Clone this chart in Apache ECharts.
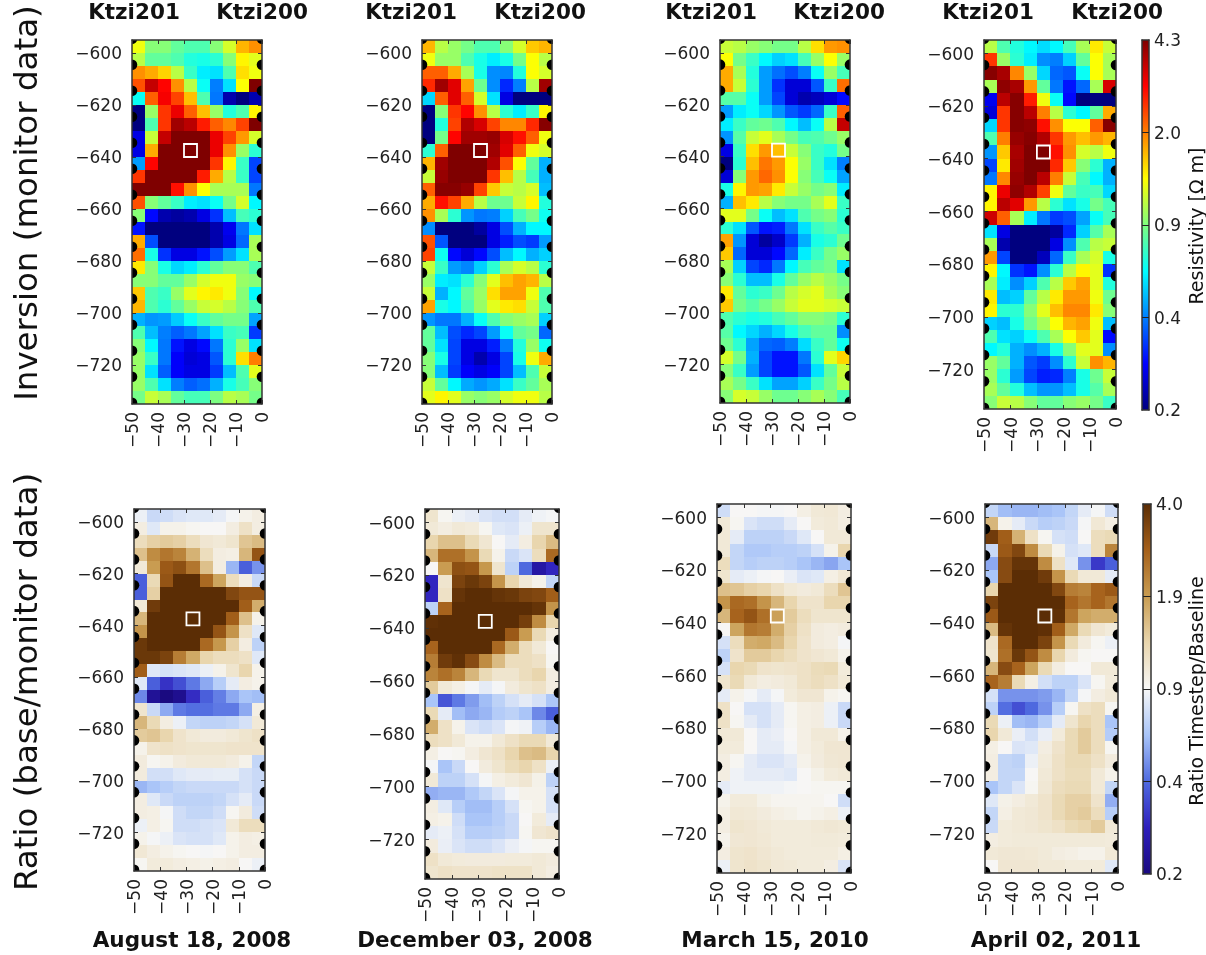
<!DOCTYPE html>
<html><head><meta charset="utf-8">
<style>html,body{margin:0;padding:0;background:#fff}#c{width:1206px;height:955px}#c canvas{filter:blur(.5px)}</style>
<script src="https://cdn.jsdelivr.net/npm/echarts@6/dist/echarts.min.js"></script>
</head><body><div id="c"></div>
<script>
// ---- values (rows top to bottom, columns left to right) ----
const resAug2008=[
[1.3,.95,.95,.85,.8,.8,.95,1.2,1.7,1.9],[1.1,.85,.85,.8,.7,.68,.72,.95,1.4,1.25],[1.9,1.75,1.55,1.1,.75,.6,.58,.8,1.5,1.3],
[2.3,3.5,2.9,1.9,1.1,.65,.43,.58,1.35,4.3],[.65,2.2,3.0,2.4,1.65,.8,.42,.23,.2,.23],[.2,1.0,2.5,3.1,2.2,1.65,1.0,.7,.8,1.4],
[.2,.8,2.5,3.9,3.6,2.7,2.2,1.95,2.4,4.3],[.27,1.15,3.5,4.3,4.3,4.3,3.1,2.4,1.85,1.2],[.27,1.75,4.3,4.3,4.3,4.3,3.1,1.9,1.0,.72],
[.47,2.9,4.3,4.3,4.3,4.3,2.5,1.4,.75,.36],[2.5,4.3,4.3,4.3,4.3,2.7,1.75,1.1,.75,.36],[4.3,4.3,4.3,2.8,1.9,1.35,1.05,1.05,1.05,.42],
[2.3,.95,.85,.75,.6,.58,.65,.9,1.2,.62],[.95,.3,.23,.22,.23,.27,.34,.52,.78,.72],[.31,.2,.2,.2,.2,.2,.23,.28,.42,.58],
[1.75,.37,.2,.2,.2,.2,.23,.27,.4,1.05],[2.1,.68,.34,.27,.27,.31,.37,.47,.58,1.05],[1.45,.95,.68,.56,.6,.72,.85,.95,.95,.8],
[.95,.95,.85,.85,1.0,1.2,1.3,1.3,1.0,.95],[1.6,.8,.75,1.0,1.25,1.4,1.45,1.3,.95,.62],[1.7,.8,.72,.85,1.0,1.15,1.2,1.1,.95,.8],
[.5,.46,.47,.54,.65,.75,.85,.9,.9,.48],[.8,.52,.43,.39,.42,.48,.58,.75,.78,.35],[.95,.62,.42,.31,.27,.3,.42,.72,1.0,.58],
[1.0,.75,.42,.29,.26,.27,.38,.72,1.5,2.0],[1.0,.58,.39,.29,.27,.27,.35,.52,.8,1.25],[1.0,.8,.58,.43,.39,.41,.5,.68,.78,.95],
[.9,1.15,1.05,.85,.78,.78,.92,1.1,1.05,.9]];
const resDec2008=[
[1.7,1.1,1.0,.9,.8,.8,.95,1.2,1.6,1.7],[1.3,1.0,1.0,.8,.68,.6,.68,.9,1.35,1.1],[2.2,2.2,1.75,1.05,.68,.45,.44,.7,1.35,1.2],
[2.6,3.9,3.2,1.8,.88,.45,.33,.43,1.1,3.9],[.56,2.2,3.2,2.2,1.2,.58,.27,.2,.2,.2],[.2,.95,2.5,2.9,1.9,1.1,.72,.6,.75,1.4],
[.2,.7,2.4,3.7,3.3,2.4,1.95,1.95,2.6,4.2],[.2,.9,2.9,3.9,3.9,4.0,3.3,2.8,2.2,1.3],[.72,2.2,4.3,4.3,4.3,3.9,3.2,2.2,1.3,1.2],
[1.7,3.9,4.3,4.3,4.3,3.7,2.3,1.35,.85,.5],[1.15,4.0,4.3,4.3,4.3,2.5,1.65,1.1,.78,.5],[2.2,4.2,4.2,4.0,2.4,1.6,1.15,1.1,1.2,.52],
[1.75,2.8,2.4,1.75,1.1,.88,.88,1.15,1.4,.7],[1.9,1.05,.72,.46,.42,.43,.55,.78,.9,.66],[.45,.2,.2,.2,.22,.27,.37,.5,.62,.62],
[2.3,.38,.2,.2,.2,.27,.32,.37,.35,.47],[2.4,.66,.3,.26,.3,.37,.52,.62,.5,.55],[1.15,.75,.47,.44,.55,.72,1.05,1.2,1.1,.72],
[1.0,.6,.58,.72,.95,1.25,1.65,1.8,1.7,1.1],[1.15,.5,.62,.85,1.0,1.5,1.8,1.8,1.3,.8],[1.8,.68,.62,.8,1.0,1.25,1.45,1.5,1.15,.8],
[.46,.42,.42,.5,.65,.8,.95,1.0,1.05,.55],[.85,.52,.37,.33,.36,.47,.65,.85,.9,.4],[.85,.58,.36,.27,.27,.32,.43,.7,1.0,.66],
[.95,.68,.36,.27,.23,.27,.36,.68,1.3,1.75],[.95,.52,.35,.29,.27,.29,.36,.52,.8,1.15],[1.15,.85,.62,.49,.46,.49,.58,.75,.85,1.05],
[1.25,1.4,1.25,1.0,.95,1.0,1.2,1.3,1.3,1.1]];
const resMar2010=[
[1.15,1.1,1.0,.95,.9,.9,1.1,1.5,1.85,1.9],[1.35,.9,.75,.62,.55,.58,.78,1.0,1.35,1.0],[1.75,1.05,.7,.47,.41,.37,.43,.65,1.0,.78],
[1.75,1.15,.72,.47,.34,.26,.26,.38,.75,2.1],[.82,.82,.65,.47,.36,.26,.23,.24,.26,.3],[.47,.6,.65,.56,.46,.38,.35,.4,.75,2.2],
[.6,.75,.85,.88,.8,.62,.52,.65,1.1,3.5],[.46,.82,1.15,1.25,1.05,.9,.78,.8,.88,1.0],[.27,.75,1.5,1.85,1.65,1.15,.95,.75,.7,.9],
[.2,.72,1.65,2.05,1.85,1.35,1.0,.75,.58,.43],[.26,.95,1.85,2.15,1.9,1.35,.95,.78,.65,.48],[.68,1.4,1.85,1.8,1.45,1.15,1.0,.9,.95,.6],
[.5,1.65,1.45,1.1,.95,.9,.9,1.05,1.25,.75],[1.25,1.25,.9,.65,.52,.58,.8,.9,.95,.72],[.72,.58,.38,.31,.32,.42,.58,.75,.82,.75],
[1.8,.46,.26,.22,.25,.35,.5,.68,.72,.88],[1.6,.4,.26,.26,.3,.4,.6,.75,.9,1.0],[1.05,.55,.36,.33,.42,.62,.78,.85,.9,.58],
[.95,.72,.52,.52,.68,.85,1.0,1.1,1.0,.9],[1.45,.85,.72,.75,.88,1.1,1.2,1.25,1.05,.95],[1.6,.9,.82,.9,1.0,1.15,1.25,1.25,1.2,1.15],
[.8,.72,.68,.7,.78,.85,.95,.95,.9,.72],[.82,.62,.56,.5,.56,.68,.78,.85,.85,.45],[.88,.72,.48,.4,.39,.43,.57,.75,.85,.66],
[1.2,.9,.5,.36,.31,.31,.42,.72,1.25,1.55],[.95,.75,.47,.36,.31,.31,.38,.58,.85,1.15],[1.05,.9,.75,.58,.48,.48,.55,.75,.9,1.1],
[.95,1.2,1.15,1.0,.88,.88,.95,1.05,.95,.78]];
const resApr2011=[
[1.1,.8,.7,.62,.57,.62,.78,1.05,1.45,1.15],[2.5,1.0,.72,.6,.45,.43,.55,.85,1.35,1.05],[4.2,3.8,1.95,1.0,.56,.4,.38,.65,1.35,1.05],
[1.05,4.1,3.8,1.85,.85,.42,.31,.4,1.05,3.3],[.28,3.6,4.2,2.7,1.3,.65,.3,.2,.2,.2],[.26,2.5,4.2,3.6,2.0,1.1,.72,.62,.85,1.75],
[.56,2.5,4.2,4.1,2.8,1.9,1.35,1.35,2.2,4.2],[.8,2.0,4.0,4.2,3.7,2.5,1.85,1.65,1.85,1.7],[.46,1.6,3.8,4.3,4.3,2.8,1.9,1.2,1.1,1.3],
[.36,1.45,3.9,4.3,4.3,2.6,1.6,.95,.72,.5],[.42,1.95,4.0,4.3,3.6,2.0,1.15,.78,.62,.5],[1.4,3.1,4.1,3.7,2.4,1.3,.85,.75,.78,.56],
[1.4,3.6,3.2,1.85,1.1,.72,.58,.68,.9,.78],[3.4,2.2,1.05,.6,.42,.35,.37,.48,.65,.78],[.58,.27,.2,.2,.2,.22,.33,.55,.82,1.05],
[1.05,.23,.2,.2,.2,.27,.45,.8,1.1,1.15],[1.85,.36,.2,.2,.24,.4,.75,1.05,1.2,.68],[1.4,.62,.34,.31,.45,.72,1.1,1.4,1.25,.34],
[1.05,.6,.45,.55,.8,1.1,1.6,1.8,1.25,.7],[1.45,.52,.55,.85,1.1,1.45,1.85,1.85,1.3,.88],[1.4,.72,.72,.95,1.25,1.65,1.95,1.95,1.45,.95],
[.55,.52,.68,.88,1.05,1.35,1.7,1.8,1.3,.52],[.8,.58,.55,.65,.8,1.05,1.35,1.6,1.25,.3],[.62,.7,.5,.45,.5,.68,.95,1.25,1.25,.45],
[1.0,.85,.5,.38,.35,.45,.72,1.15,1.9,1.7],[1.0,.72,.47,.36,.32,.33,.43,.68,.88,1.15],[1.05,.85,.7,.52,.46,.46,.52,.68,.82,1.05],
[.95,1.15,1.1,.95,.85,.85,.95,1.0,.9,.75]];
const ratAug2008=[
[.85,.72,.74,.78,.8,.8,.82,.88,.95,1.0],[1.0,.8,.95,.95,.92,.9,.9,1.0,1.15,1.0],[1.2,1.35,1.4,1.35,1.2,1.08,1.05,1.1,1.45,1.55],
[1.5,2.1,2.4,2.2,1.65,1.2,1.0,.98,1.6,3.0],[1.05,1.9,2.9,3.1,2.4,1.5,1.0,.58,.4,.5],[.4,1.25,3.0,4,4,2.6,1.8,1.2,1.0,.72],
[.4,1.35,4,4,4,4,4,3.3,3.0,3.0],[1.05,3.6,4,4,4,4,4,4,2.8,1.7],[1.6,4,4,4,4,4,4,2.8,1.5,.95],
[2.0,4,4,4,4,4,3.0,2.0,1.15,.8],[3.7,4,4,4,4,2.6,1.95,1.35,1.0,.68],[3.7,3.7,3.4,2.3,1.75,1.3,1.2,1.2,1.15,.8],
[2.8,.8,.76,.78,.8,.85,.95,1.1,1.3,.95],[.8,.4,.32,.37,.45,.55,.66,.82,1.0,.95],[.48,.23,.2,.22,.31,.4,.46,.55,.62,.6],
[1.1,.72,.55,.45,.43,.43,.45,.45,.55,.98],[1.6,1.25,1.0,.85,.7,.68,.68,.7,.76,1.05],[1.4,1.45,1.3,1.12,1.05,1.02,1.02,1.05,1.1,1.15],
[.95,1.12,1.15,1.12,1.1,1.1,1.1,1.12,1.12,1.12],[1.02,.92,.95,1.02,1.05,1.05,1.05,1.02,.95,.7],[1.02,.75,.75,.8,.82,.82,.83,.83,.76,.72],
[.58,.62,.66,.7,.72,.72,.72,.72,.76,.72],[1.0,.8,.72,.68,.68,.68,.7,.76,.82,.72],[1.0,.98,.88,.74,.7,.7,.74,.92,1.02,.74],
[.85,.98,.92,.74,.74,.76,.78,1.05,1.2,1.2],[.95,.88,.85,.78,.76,.76,.8,.95,1.0,.98],[1.06,1.0,.95,.92,.9,.88,.9,.95,1.0,1.0],
[.92,1.03,1.03,1.0,.98,.96,.98,1.0,.9,.85]];
const ratDec2008=[
[1.1,.92,.85,.82,.78,.75,.75,.82,.86,.88],[1.05,1.0,1.05,1.03,.92,.8,.78,.85,1.1,1.1],[1.3,1.5,1.5,1.25,1.08,.9,.82,1.0,1.3,1.55],
[1.6,2.5,2.5,2.0,1.25,.95,.72,.78,1.2,2.6],[.9,1.9,3.1,3.0,1.95,1.1,.68,.42,.25,.3],[.3,1.1,3.4,3.7,3.4,2.0,1.3,1.05,.95,.7],
[.3,1.15,3.8,4,4,3.8,3.7,3.4,3.3,2.8],[.68,2.7,4,4,4,4,4,4,3.8,2.0],[3.9,4,4,4,4,4,4,3.5,2.1,1.3],
[4,4,4,4,4,4,2.9,1.9,1.25,1.0],[2.7,4,4,4,4,2.6,1.7,1.2,1.05,.9],[2.3,3.6,3.9,3.2,2.1,1.55,1.2,1.2,1.15,.92],
[2.2,2.5,2.2,1.6,1.25,1.1,1.1,1.2,1.3,1.0],[1.4,1.05,.98,.88,.82,.88,1.02,1.1,1.15,1.0],[.62,.38,.45,.52,.6,.68,.76,.82,.76,.63],
[1.25,.82,.6,.55,.58,.65,.68,.62,.48,.4],[1.7,1.15,.95,.78,.74,.78,.88,.86,.66,.58],[1.2,1.15,1.05,.95,.95,1.05,1.15,1.25,1.25,1.05],
[.98,.9,.92,1.0,1.08,1.15,1.3,1.5,1.55,1.3],[.88,.62,.72,.9,1.02,1.1,1.22,1.3,1.15,.85],[1.05,.68,.68,.76,.88,.98,1.03,1.08,.96,.68],
[.56,.58,.58,.64,.7,.78,.88,.95,.95,.76],[1.0,.8,.66,.6,.6,.66,.76,.92,.95,.76],[.98,.95,.74,.62,.62,.66,.72,.9,1.03,.82],
[.82,.85,.76,.66,.66,.68,.72,.92,1.08,1.12],[1.02,.84,.78,.74,.74,.78,.84,.88,.92,.92],[1.15,1.05,1.03,1.02,1.02,1.02,1.03,1.03,1.05,1.02],
[1.1,1.15,1.12,1.12,1.12,1.14,1.14,1.14,1.05,1.0]];
const ratMar2010=[
[.74,.9,.9,.88,.88,.9,.98,1.05,1.06,1.0],[1.05,.92,.78,.74,.74,.82,.9,1.03,1.05,1.0],[1.05,.82,.68,.68,.68,.72,.8,.9,1.05,1.05],
[1.05,.7,.64,.64,.66,.66,.68,.76,.95,1.3],[1.2,.7,.66,.68,.68,.66,.62,.58,.54,.62],[1.1,.82,.85,.88,.9,.84,.78,.8,.98,1.06],
[1.5,1.45,1.35,1.3,1.15,1.05,1.02,1.05,1.2,1.45],[2.0,2.6,2.5,2.0,1.6,1.3,1.12,1.12,1.3,1.3],[1.6,2.7,3.0,2.5,1.85,1.4,1.2,1.1,1.1,1.1],
[.9,1.8,2.4,2.3,1.7,1.35,1.15,1.02,1.0,1.02],[.76,1.2,1.7,1.75,1.55,1.3,1.12,1.02,1.0,.88],[.68,1.12,1.4,1.4,1.3,1.2,1.12,1.08,1.05,.95],
[.76,1.3,1.25,1.12,1.1,1.12,1.15,1.22,1.25,1.03],[1.1,1.25,1.05,1.0,1.02,1.05,1.15,1.2,1.15,1.05],[.82,.95,.88,.82,.88,1.03,1.08,1.08,.95,.92],
[1.15,.9,.76,.76,.82,.92,.98,1.0,.85,.72],[1.15,.92,.82,.76,.82,.92,.98,1.0,.85,.72],[1.05,1.05,.9,.82,.84,.9,.98,1.05,1.05,.95],
[1.03,1.03,.9,.82,.82,.88,.98,1.03,1.08,1.08],[1.0,.92,.82,.78,.78,.82,.95,1.02,1.07,1.08],[1.0,.86,.82,.82,.82,.8,.9,.96,1.03,1.05],
[.82,.86,.86,.86,.86,.88,.9,.92,.92,.92],[.95,1.03,1.03,.96,.93,.93,.93,.93,.9,.74],[.98,1.06,1.05,1.02,.98,.96,.93,.95,.98,.85],
[1.0,1.1,1.08,1.05,1.03,1.03,1.03,1.05,1.07,1.05],[.95,1.07,1.08,1.06,1.03,1.03,1.03,1.04,1.04,1.03],[1.0,1.1,1.12,1.08,1.05,1.03,1.03,1.03,1.03,.98],
[.85,1.1,1.13,1.1,1.06,1.05,1.03,1.03,1.0,.78]];
const ratApr2011=[
[.7,.6,.58,.58,.6,.62,.7,.82,.88,.74],[1.6,.95,.82,.72,.66,.68,.72,.88,1.06,.98],[3.6,2.8,1.65,1.15,.92,.76,.74,.9,1.2,1.25],
[.72,2.9,3.3,2.1,1.25,.95,.76,.8,1.2,2.2],[.55,3.2,3.8,3.8,2.1,1.15,.8,.5,.33,.4],[.62,3.2,4,4,3.6,2.0,1.25,1.05,1.05,.82],
[1.3,4,4,4,4,3.3,2.3,2.2,2.7,2.9],[3.4,4,4,4,4,4,2.7,2.4,2.7,2.4],[2.9,4,4,4,4,3.9,2.4,1.8,1.7,1.7],
[1.55,3.8,4,4,3.9,2.8,1.75,1.25,1.08,1.03],[1.12,2.6,4,4,3.4,2.0,1.25,1.02,.92,.85],[1.1,2.5,3.7,3.0,2.1,1.3,1.02,.92,.9,.9],
[1.6,3.2,2.7,1.8,1.25,1.0,.9,.9,1.05,1.05],[2.7,2.3,1.25,.98,.75,.68,.68,.78,.92,1.03],[.76,.5,.5,.5,.52,.58,.7,.88,1.0,1.05],
[.68,.43,.37,.42,.5,.66,.92,1.15,1.2,.92],[1.25,.85,.6,.58,.66,.82,1.1,1.3,1.2,.62],[1.3,1.05,.84,.75,.84,1.03,1.25,1.4,1.2,.65],
[.98,.9,.78,.8,1.0,1.12,1.25,1.4,1.2,.92],[1.0,.7,.68,.85,1.03,1.15,1.25,1.25,1.15,1.02],[1.0,.7,.7,.9,1.05,1.15,1.22,1.22,1.05,.95],
[.62,.7,.78,.92,1.07,1.2,1.25,1.25,1.05,.7],[.8,.96,1.0,1.05,1.12,1.25,1.35,1.35,1.12,.56],[.7,.98,1.05,1.07,1.12,1.25,1.35,1.4,1.2,.66],
[.72,1.03,1.05,1.07,1.1,1.15,1.25,1.3,1.4,1.05],[1.0,1.03,1.04,1.04,1.04,1.04,1.04,1.04,1.04,1.03],[1.05,1.07,1.07,1.06,1.04,1.0,.98,.95,.95,1.05],
[.9,1.08,1.08,1.08,1.05,1.05,1.03,1.03,1.03,.8]];

const xTicks=[-50,-40,-30,-20,-10,0];
const yTicks=[-600,-620,-640,-660,-680,-700,-720];
const electrodeDepths=[-594.5,-604.5,-614.5,-624.5,-634.5,-644.5,-654.5,-664.5,-674.5,-684.5,-694.5,-704.5,-714.5,-724.5,-734.5];
const monitorPoint=[-27.5,-637.5];
const resTicks=['0.2','0.4','0.9','2.0','4.3'];
const ratTicks=['0.2','0.4','0.9','1.9','4.0'];
const dates=['August 18, 2008','December 03, 2008','March 15, 2010','April 02, 2011'];
const wells=['Ktzi201','Ktzi200'];
const rowTitles=['Inversion (monitor data)','Ratio (base/monitor data)'];
const barTitles=['Resistivity [Ω m]','Ratio Timestep/Baseline'];

// ---- styles and layout ----
const jet=['#00007f','#0000ff','#007fff','#00ffff','#7fff7f','#ffff00','#ff7f00','#ff0000','#7f0000'];
const brown=['#1a0a80','#2e1fbc','#4f6ae0','#a8c4f8','#f7f7f6','#e9d6ae','#c99d52','#a5601a','#5b2d05'];
const panels=[
 {d:resAug2008,l:132,t:40,r:262,b:404,k:0},{d:resDec2008,l:422,t:40,r:552,b:404,k:0},
 {d:resMar2010,l:720,t:40,r:850,b:403,k:0},{d:resApr2011,l:984,t:40,r:1116,b:409,k:0},
 {d:ratAug2008,l:134,t:509,r:265,b:871,k:1},{d:ratDec2008,l:425,t:509,r:559,b:879,k:1},
 {d:ratMar2010,l:717,t:504,r:851,b:873,k:1},{d:ratApr2011,l:985,t:504,r:1118,b:873,k:1}];
const bars=[{l:1142,t:40,r:1149,b:410,colors:jet,labels:resTicks},{l:1143,t:504,r:1151,b:874,colors:brown,labels:ratTicks}];
const ink='#222', frame='#333', tickFont=17;
const shifted={t:{padding:[4,0,0,0],fontSize:tickFont,color:ink,fontFamily:'DejaVu Sans'}};
const minusFmt=v=>'{t|'+String(v).replace('-','\u2212')+'}';

const grid=[],xAxis=[],yAxis=[],series=[],inv=[],rat=[];
function addAxes(g,xmin,xmax,ymin,ymax,xLabel,yLabel,yRightOpt){
  const i=grid.length;
  grid.push({left:g.l,top:g.t,width:g.r-g.l,height:g.b-g.t});
  const line={show:true,onZero:false,lineStyle:{color:frame,width:1.5}};
  const base={type:'value',gridIndex:i,splitLine:{show:false},z:10,axisLine:line};
  const xa=xAxis.length, ya=yAxis.length;
  xAxis.push({...base,min:xmin,max:xmax,position:'bottom',axisTick:{show:!!xLabel,inside:true,length:4,customValues:xTicks,lineStyle:{color:frame}},
    axisLabel:xLabel?{show:true,customValues:xTicks,rotate:90,formatter:minusFmt,rich:shifted,fontSize:tickFont,color:ink,margin:8,fontFamily:'DejaVu Sans',hideOverlap:false,showMinLabel:true,showMaxLabel:true}:{show:false}});
  xAxis.push({...base,min:xmin,max:xmax,position:'top',axisLabel:{show:false},axisTick:{show:!!xLabel,inside:true,length:4,customValues:xTicks,lineStyle:{color:frame}}});
  yAxis.push({...base,min:ymin,max:ymax,position:'left',axisTick:{show:!!yLabel,inside:true,length:4,customValues:yTicks,lineStyle:{color:frame}},
    axisLabel:yLabel?{show:true,customValues:yTicks,formatter:minusFmt,rich:shifted,fontSize:tickFont,color:ink,margin:10,fontFamily:'DejaVu Sans'}:{show:false}});
  yAxis.push({...base,min:ymin,max:ymax,position:'right',...(yRightOpt||{axisLabel:{show:false},axisTick:{show:!!yLabel,inside:true,length:4,customValues:yTicks,lineStyle:{color:frame}}})});
  return {xa,ya};
}
const cellW=5,cellH=5,topDepth=-595,electrodeR=5.3;
function renderCell(p,api){
  const a=api.coord([api.value(0),api.value(1)]), b=api.coord([api.value(0)+cellW,api.value(1)-cellH]);
  const x0=Math.round(a[0]),y0=Math.round(a[1]),x1=Math.round(b[0]),y1=Math.round(b[1]);
  return {type:'rect',shape:{x:x0,y:y0,width:x1-x0,height:y1-y0},style:{fill:api.visual('color')}};
}
function renderElectrode(p,api){
  const a=api.coord([api.value(0),api.value(1)]);
  return {type:'circle',shape:{cx:a[0],cy:a[1],r:electrodeR},style:{fill:'#000'}};
}
panels.forEach(p=>{
  const {xa,ya}=addAxes(p,-50,0,-735,-595,true,true);
  const cells=[];
  p.d.forEach((row,r)=>row.forEach((v,c)=>cells.push([-50+c*cellW,topDepth-r*cellH,v,Math.log10(v)])));
  (p.k?rat:inv).push(series.length);
  series.push({type:'custom',coordinateSystem:'cartesian2d',xAxisIndex:xa,yAxisIndex:ya,data:cells,renderItem:renderCell,z:2,silent:true,clip:true,encode:{x:0,y:1}});
  const el=[];
  electrodeDepths.forEach(y=>{el.push([-50,y]);el.push([0,y]);});
  series.push({type:'custom',coordinateSystem:'cartesian2d',xAxisIndex:xa,yAxisIndex:ya,data:el,renderItem:renderElectrode,clip:true,z:3,silent:true,encode:{x:0,y:1}});
  series.push({type:'scatter',xAxisIndex:xa,yAxisIndex:ya,data:[monitorPoint],symbol:'rect',symbolSize:13,z:4,silent:true,itemStyle:{opacity:1,color:'rgba(0,0,0,0)',borderColor:'#fff',borderWidth:1.8}});
});
bars.forEach(b=>{
  const {xa,ya}=addAxes(b,0,1,0,4,false,false,{
    axisTick:{show:true,inside:true,length:b.r-b.l,customValues:[1,2,3],lineStyle:{color:'#222'}},
    axisLabel:{show:true,customValues:[0,1,2,3,4],formatter:v=>'{t|'+b.labels[v]+'}',rich:shifted,fontSize:tickFont,color:ink,margin:5,fontFamily:'DejaVu Sans',showMinLabel:true,showMaxLabel:true,hideOverlap:false}});
  const stops=b.colors.map((c,i)=>({offset:i/(b.colors.length-1),color:c}));
  series.push({type:'custom',coordinateSystem:'cartesian2d',xAxisIndex:xa,yAxisIndex:ya+1,data:[[0,0]],silent:true,z:2,
    renderItem:(p,api)=>{const a=api.coord([0,4]),c=api.coord([1,0]);
      return {type:'rect',shape:{x:a[0],y:a[1],width:c[0]-a[0],height:c[1]-a[1]},
        style:{fill:new echarts.graphic.LinearGradient(0,1,0,0,stops)}};}});
});

// ---- free text ----
const txt=(text,x,y,font,rot)=>({type:'text',x,y,rotation:rot||0,silent:true,z:20,
  style:{text,font,fill:'#111',textAlign:'center',textVerticalAlign:'middle'}});
const bold='bold 21.5px "DejaVu Sans"';
const headerX=[[134,262],[411,540],[711,839],[988,1117]];
const dateX=[192,475,775,1056];
const elements=[];
headerX.forEach(h=>{elements.push(txt(wells[0],h[0],13,bold));elements.push(txt(wells[1],h[1],13,bold));});
dates.forEach((d,i)=>elements.push(txt(d,dateX[i],941,bold)));
elements.push(txt(rowTitles[0],29,203,'32.5px "DejaVu Sans"',Math.PI/2));
elements.push(txt(rowTitles[1],29,682,'32.5px "DejaVu Sans"',Math.PI/2));
elements.push(txt(barTitles[0],1198,226,'19px "DejaVu Sans"',Math.PI/2));
elements.push(txt(barTitles[1],1198,691,'19px "DejaVu Sans"',Math.PI/2));

const chart=echarts.init(document.getElementById('c'),null,{renderer:'canvas'});
chart.setOption({animation:false,backgroundColor:'#fff',grid,xAxis,yAxis,series,
  visualMap:[
   {show:false,type:'continuous',seriesIndex:inv,dimension:3,min:Math.log10(.2),max:Math.log10(4.3),inRange:{color:jet}},
   {show:false,type:'continuous',seriesIndex:rat,dimension:3,min:Math.log10(.2),max:Math.log10(4.0),inRange:{color:brown}}],
  graphic:{elements}});
</script></body></html>
